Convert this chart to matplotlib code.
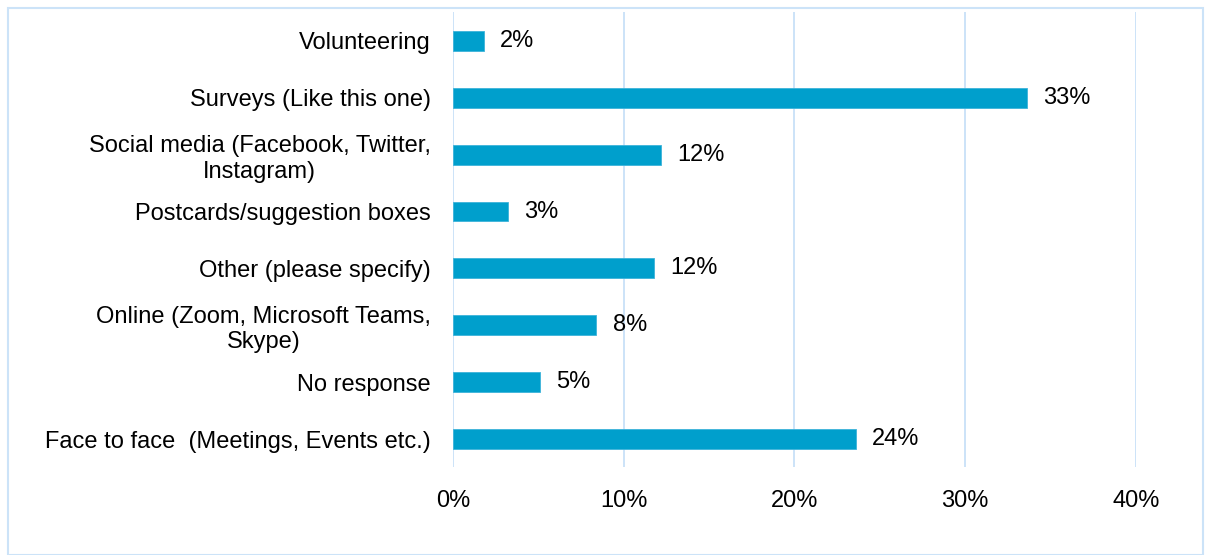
import matplotlib.pyplot as plt
import matplotlib.patches as patches
from matplotlib.ticker import FuncFormatter

plt.rcParams['font.family'] = ['Liberation Sans', 'DejaVu Sans']

categories = ['Volunteering', 'Surveys (Like this one)', 'Social media (Facebook, Twitter,\nInstagram)',
              'Postcards/suggestion boxes', 'Other (please specify)', 'Online (Zoom, Microsoft Teams,\nSkype)',
              'No response', 'Face to face  (Meetings, Events etc.)']
values = [1.8, 33.6, 12.2, 3.2, 11.8, 8.4, 5.1, 23.6]
labels = ['2%', '33%', '12%', '3%', '12%', '8%', '5%', '24%']

bar_color = '#009FCC'
grid_color = '#CCE3F8'
fs = 17

fig = plt.figure(figsize=(12.05, 5.55), dpi=100)
ax = fig.add_axes([0.3759, 0.1577, 0.5668, 0.8198])

y = list(range(len(categories)))[::-1]
ax.barh(y, values, height=0.35, color=bar_color, edgecolor='#3DB3DA', linewidth=0.6, zorder=3)
for yi, v, lab in zip(y, values, labels):
    ax.text(v + 0.95, yi, lab, va='center', ha='left', fontsize=fs, color='black')

ax.set_xlim(0, 40)
ax.set_ylim(-0.5, len(categories) - 0.5)
ax.set_xticks([0, 10, 20, 30, 40])
ax.xaxis.set_major_formatter(FuncFormatter(lambda x, p: f'{x:.0f}%'))
ax.set_yticks(y)
ax.set_yticklabels(categories, fontsize=fs)
ax.tick_params(axis='x', length=0, pad=16, labelsize=fs)
ax.tick_params(axis='y', length=0, pad=16)
for lab in ax.get_yticklabels():
    lab.set_multialignment('center')

ax.grid(axis='x', color=grid_color, linewidth=1.4, zorder=0)
for s in ['top', 'right', 'bottom', 'left']:
    ax.spines[s].set_visible(False)

fig.patches.append(patches.Rectangle((8 / 1205, 0), 1195 / 1205, 547 / 555, transform=fig.transFigure,
                                     fill=False, edgecolor=grid_color, linewidth=1.5))

fig.savefig('out.png', dpi=100)
